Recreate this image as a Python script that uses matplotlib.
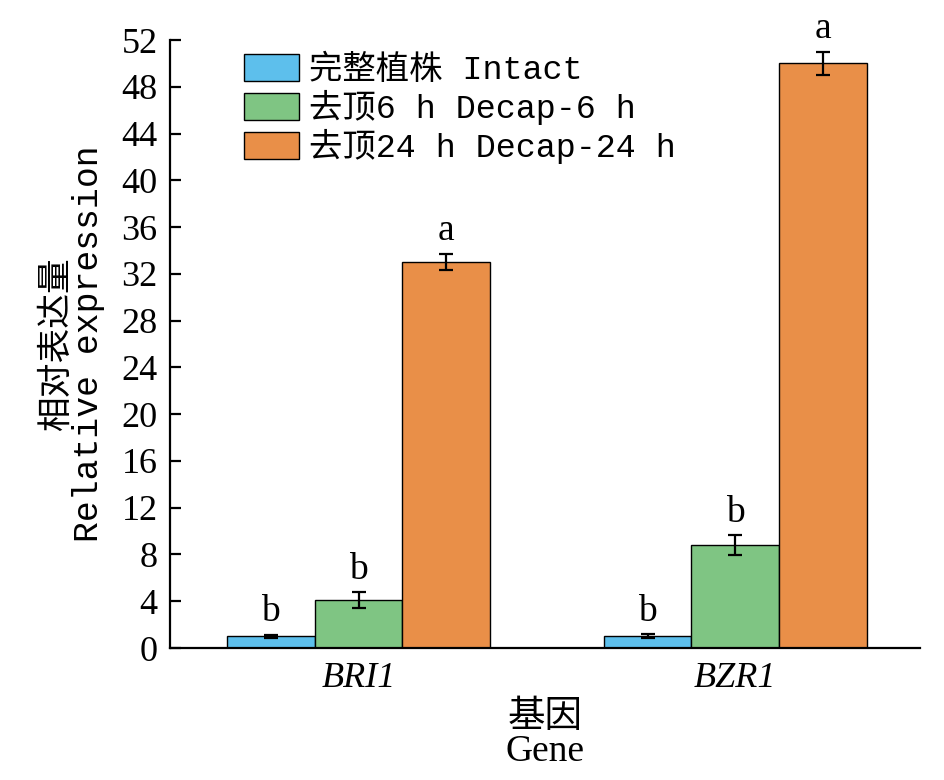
import matplotlib
matplotlib.use('Agg')
import matplotlib.pyplot as plt
import numpy as np

# data
genes = ['BRI1', 'BZR1']
series = ['完整植株 Intact', '去顶6 h Decap-6 h', '去顶24 h Decap-24 h']
values = [[1.0, 1.0], [4.1, 8.8], [33.0, 50.0]]
errors = [[0.12, 0.18], [0.65, 0.85], [0.7, 1.0]]
letters = [['b', 'b'], ['b', 'b'], ['a', 'a']]
colors = ['#5DBFEC', '#7FC583', '#E98F48']
yticks = np.arange(0, 53, 4)

serif = ['Liberation Serif', 'Noto Sans CJK SC']
mono = ['Liberation Mono', 'Noto Sans CJK SC']

fig = plt.figure(figsize=(9.45, 7.8), dpi=100)
ax = fig.add_axes([0.18, 0.1692, 0.7935, 0.7795])

x = np.arange(len(genes))
w = 0.233
for i, s in enumerate(series):
    xs = x + (i - 1) * w
    ax.bar(xs, values[i], w, color=colors[i], edgecolor='black', linewidth=1.0,
           label=s, zorder=2)
    ax.errorbar(xs, values[i], yerr=errors[i], fmt='none', ecolor='black',
                elinewidth=1.6, capsize=5, capthick=1.6, zorder=3)
    for xi, v, e, t in zip(xs, values[i], errors[i], letters[i]):
        ax.annotate(t, (xi, v + e), xytext=(0, 4), textcoords='offset points',
                    ha='center', va='bottom', fontsize=27, family=serif)

ax.set_xlim(-0.5, 1.49)
ax.set_ylim(0, 52)
ax.set_yticks(yticks)
ax.set_yticklabels([str(t) for t in yticks], family=serif, fontsize=26)
ax.set_xticks(x)
ax.set_xticklabels(genes, family=serif, fontsize=26, style='italic')

for sp in ['top', 'right']:
    ax.spines[sp].set_visible(False)
for sp in ['left', 'bottom']:
    ax.spines[sp].set_linewidth(1.6)

ax.tick_params(axis='y', direction='in', length=8, width=1.6, pad=9)
ax.tick_params(axis='x', length=0, pad=10)

ax.set_ylabel('相对表达量\nRelative expression', family=mono, fontsize=25,
              linespacing=0.95, labelpad=12)
ax.set_xlabel('基因\nGene', family=serif, fontsize=27, linespacing=1.0, labelpad=4)

leg = ax.legend(loc='upper left', bbox_to_anchor=(0.072, 1.01), frameon=False,
                prop={'family': mono, 'size': 24}, handlelength=1.65,
                handleheight=0.85, handletextpad=0.3, labelspacing=0.12,
                borderaxespad=0.2)
for p in leg.get_patches():
    p.set_linewidth(1.0)

fig.savefig('out.png', dpi=100)
